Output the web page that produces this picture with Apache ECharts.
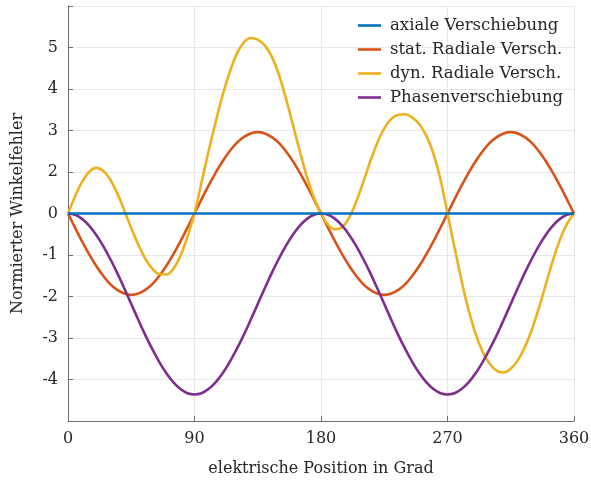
<!DOCTYPE html>
<html>
<head>
<meta charset="utf-8">
<style>
  html, body { margin: 0; padding: 0; background: #fff; }
  #chart { width: 591px; height: 480px; }
</style>
<script src="https://cdn.jsdelivr.net/npm/echarts@6/dist/echarts.min.js"></script>
</head>
<body>
<div id="chart"></div>
<script>
// Electrical position in degrees (sample grid shared by the curves)
const positionDeg = [
  0, 5, 10, 15, 20, 25, 30, 35, 40, 45, 50, 55, 60, 65, 70, 75, 80, 85, 90,
  95, 100, 105, 110, 115, 120, 125, 130, 135, 140, 145, 150, 155, 160, 165, 170, 175, 180,
  185, 190, 195, 200, 205, 210, 215, 220, 225, 230, 235, 240, 245, 250, 255, 260, 265, 270,
  275, 280, 285, 290, 295, 300, 305, 310, 315, 320, 325, 330, 335, 340, 345, 350, 355, 360
];

const axialShift = [
  0, 0, 0, 0, 0, 0, 0, 0, 0, 0, 0, 0, 0, 0, 0, 0, 0, 0, 0,
  0, 0, 0, 0, 0, 0, 0, 0, 0, 0, 0, 0, 0, 0, 0, 0, 0, 0,
  0, 0, 0, 0, 0, 0, 0, 0, 0, 0, 0, 0, 0, 0, 0, 0, 0, 0,
  0, 0, 0, 0, 0, 0, 0, 0, 0, 0, 0, 0, 0, 0, 0, 0, 0, 0
];

const staticRadial = [
  0, -0.34, -0.67, -0.98, -1.26, -1.50, -1.70, -1.84, -1.93, -1.96, -1.93, -1.84, -1.70, -1.50, -1.26, -0.98, -0.67, -0.34, 0,
  0.34, 0.67, 0.98, 1.26, 1.50, 1.70, 1.84, 1.93, 1.96, 1.93, 1.84, 1.70, 1.50, 1.26, 0.98, 0.67, 0.34, 0,
  -0.34, -0.67, -0.98, -1.26, -1.50, -1.70, -1.84, -1.93, -1.96, -1.93, -1.84, -1.70, -1.50, -1.26, -0.98, -0.67, -0.34, 0,
  0.34, 0.67, 0.98, 1.26, 1.50, 1.70, 1.84, 1.93, 1.96, 1.93, 1.84, 1.70, 1.50, 1.26, 0.98, 0.67, 0.34, 0
];

const dynamicRadial = [
  0, 0.41, 0.76, 1.00, 1.10, 1.03, 0.82, 0.49, 0.08, -0.35, -0.75, -1.09, -1.33, -1.46, -1.47, -1.33, -1.02, -0.56, 0,
  0.75, 1.50, 2.20, 2.85, 3.40, 3.84, 4.12, 4.23, 4.19, 4.05, 3.78, 3.35, 2.78, 2.14, 1.49, 0.88, 0.38, 0,
  -0.27, -0.38, -0.33, -0.10, 0.28, 0.75, 1.25, 1.70, 2.05, 2.28, 2.38, 2.39, 2.31, 2.15, 1.87, 1.44, 0.82, 0,
  -0.82, -1.62, -2.33, -2.90, -3.33, -3.62, -3.79, -3.83, -3.74, -3.54, -3.22, -2.80, -2.28, -1.70, -1.13, -0.63, -0.25, 0
];

const phaseShift = [
  0, -0.03, -0.13, -0.29, -0.51, -0.78, -1.09, -1.43, -1.80, -2.18, -2.56, -2.93, -3.27, -3.58, -3.85, -4.07, -4.23, -4.33, -4.36,
  -4.33, -4.23, -4.07, -3.85, -3.58, -3.27, -2.93, -2.56, -2.18, -1.80, -1.43, -1.09, -0.78, -0.51, -0.29, -0.13, -0.03, 0,
  -0.03, -0.13, -0.29, -0.51, -0.78, -1.09, -1.43, -1.80, -2.18, -2.56, -2.93, -3.27, -3.58, -3.85, -4.07, -4.23, -4.33, -4.36,
  -4.33, -4.23, -4.07, -3.85, -3.58, -3.27, -2.93, -2.56, -2.18, -1.80, -1.43, -1.09, -0.78, -0.51, -0.29, -0.13, -0.03, 0
];

const seriesNames = ['axiale Verschiebung', 'stat. Radiale Versch.', 'dyn. Radiale Versch.', 'Phasenverschiebung'];
const seriesColors = ['#0072BD', '#D95319', '#EDB120', '#7E2F8E'];

// Y-axis tick positions and the text printed at each of them
const yTickValues = [-4, -3, -2, -1, 0, 1, 2, 3, 4];
const yTickLabels = ['-4', '-3', '-2', '-1', '0', '2', '3', '4', '5'];

const FONT = '"DejaVu Serif", serif';
const TEXT = '#262626';

function pairs(ys) {
  return positionDeg.map((x, i) => [x, ys[i]]);
}

const allValues = [axialShift, staticRadial, dynamicRadial, phaseShift];

const chart = echarts.init(document.getElementById('chart'), null, { renderer: 'canvas' });

chart.setOption({
  animation: false,
  backgroundColor: '#ffffff',
  grid: { left: 68, right: 17, top: 6, bottom: 59, containLabel: false, outerBoundsMode: 'none' },
  legend: {
    orient: 'vertical',
    left: 358,
    top: 17,
    padding: 0,
    itemWidth: 23,
    itemHeight: 14,
    itemGap: 7,
    textStyle: { fontFamily: FONT, fontSize: 16.5, color: TEXT, padding: [0, 0, 0, 4] },
    data: seriesNames.map(n => ({ name: n, icon: 'path://M0,5.7 L23,5.7 L23,8.3 L0,8.3 Z' }))
  },
  xAxis: {
    type: 'value',
    min: 0,
    max: 360,
    interval: 90,
    name: 'elektrische Position in Grad',
    nameLocation: 'middle',
    nameGap: 40,
    nameTextStyle: { fontFamily: FONT, fontSize: 16, color: TEXT },
    axisLine: { show: true, onZero: false, lineStyle: { color: '#6e6e6e', width: 1 } },
    axisTick: { show: true, inside: true, length: 5, lineStyle: { color: '#6e6e6e' } },
    axisLabel: { fontFamily: FONT, fontSize: 16, color: TEXT, margin: 10 },
    splitLine: { show: true, lineStyle: { color: '#e8e8e8', width: 1 } }
  },
  yAxis: {
    type: 'value',
    min: -5,
    max: 5,
    interval: 1,
    name: 'Normierter Winkelfehler',
    nameLocation: 'middle',
    nameGap: 42,
    nameTextStyle: { fontFamily: FONT, fontSize: 16, color: TEXT },
    axisLine: { show: true, onZero: false, lineStyle: { color: '#6e6e6e', width: 1 } },
    axisTick: { show: true, inside: true, length: 5, lineStyle: { color: '#6e6e6e' } },
    axisLabel: {
      fontFamily: FONT, fontSize: 16, color: TEXT, margin: 10,
      formatter: v => {
        const i = yTickValues.indexOf(v);
        return i >= 0 ? yTickLabels[i] : '';
      }
    },
    splitLine: { show: true, lineStyle: { color: '#e8e8e8', width: 1 } }
  },
  series: seriesNames.map((name, k) => ({
    name: name,
    type: 'line',
    data: pairs(allValues[k]),
    smooth: 0.4,
    showSymbol: false,
    symbol: 'none',
    color: seriesColors[k],
    lineStyle: { color: seriesColors[k], width: 2.6 },
    z: k === 0 ? 3 : 2
  }))
});
</script>
</body>
</html>
